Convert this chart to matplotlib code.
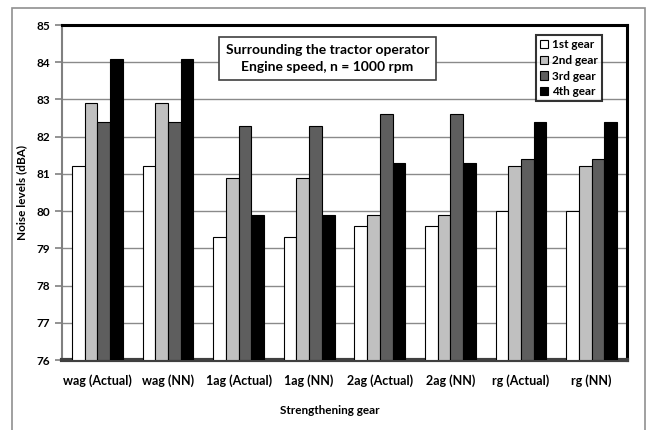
import numpy as np
import matplotlib.pyplot as plt
from matplotlib.patches import Rectangle

plt.rcParams['font.family'] = ['Lato', 'DejaVu Sans']
plt.rcParams['font.weight'] = 'bold'
plt.rcParams['axes.labelweight'] = 'bold'

categories = ['wag (Actual)', 'wag (NN)', '1ag (Actual)', '1ag (NN)',
              '2ag (Actual)', '2ag (NN)', 'rg (Actual)', 'rg (NN)']
gear1 = [81.2, 81.2, 79.3, 79.3, 79.6, 79.6, 80.0, 80.0]
gear2 = [82.9, 82.9, 80.9, 80.9, 79.9, 79.9, 81.2, 81.2]
gear3 = [82.4, 82.4, 82.3, 82.3, 82.6, 82.6, 81.4, 81.4]
gear4 = [84.1, 84.1, 79.9, 79.9, 81.3, 81.3, 82.4, 82.4]
series = [('1st gear', gear1, 'white'),
          ('2nd gear', gear2, '#c0c0c0'),
          ('3rd gear', gear3, '#5e5e5e'),
          ('4th gear', gear4, 'black')]

fig = plt.figure(figsize=(6.49, 4.30), dpi=100)
# outer chart frame
fig.patches.append(Rectangle((12 / 649, -0.05), 633 / 649, 1 - 8 / 430 + 0.05,
                             transform=fig.transFigure, fill=False,
                             edgecolor='#909090', linewidth=1.2))
ax = fig.add_axes([62 / 649, 1 - 360 / 430, 565 / 649, 335 / 430])

x = np.arange(len(categories))
w = 0.18
base = 76
for i, (name, vals, col) in enumerate(series):
    ax.bar(x + (i - 1.5) * w, np.array(vals) - base, w, bottom=base,
           color=col, edgecolor='black', linewidth=0.8, label=name, zorder=3)

ax.set_xlim(-0.5, len(categories) - 0.5)
ax.set_ylim(76, 85)
ax.set_yticks(range(76, 86))
ax.yaxis.grid(True, color='#8a8a8a', linewidth=1, zorder=0)
ax.set_xticks(x)
ax.set_xticklabels(categories, fontsize=9)
ax.tick_params(axis='x', length=0, pad=10)
ax.tick_params(axis='y', labelsize=8.5, length=5, color='#808080', width=1.2)

ax.spines['top'].set_linewidth(2.2)
ax.spines['right'].set_linewidth(2.2)
ax.spines['bottom'].set_linewidth(3)
ax.spines['bottom'].set_color('#404040')
ax.spines['left'].set_linewidth(1.5)
ax.spines['left'].set_color('#808080')

fig.text(22 / 649, 1 - 192 / 430, 'Noise levels (dBA)', rotation=90,
         ha='center', va='center', fontsize=8.5, fontweight='bold')
fig.text(330 / 649, 1 - 411 / 430, 'Strengthening gear',
         ha='center', va='center', fontsize=8.5, fontweight='bold')

ax.text(0.47, 0.9, 'Surrounding the tractor operator\nEngine speed, n = 1000 rpm',
        transform=ax.transAxes, ha='center', va='center', fontsize=10,
        linespacing=1.5, zorder=5,
        bbox=dict(boxstyle='square,pad=0.5', facecolor='white',
                  edgecolor='#404040', linewidth=1.2))

leg = ax.legend(loc='upper right', bbox_to_anchor=(0.955, 0.97), fontsize=8.5,
                frameon=True, fancybox=False, edgecolor='black',
                handlelength=0.7, handleheight=0.7, handletextpad=0.3,
                borderpad=0.35, labelspacing=0.4, borderaxespad=0)
leg.get_frame().set_linewidth(1.5)
leg.set_zorder(6)

fig.savefig('out.png', dpi=100)
